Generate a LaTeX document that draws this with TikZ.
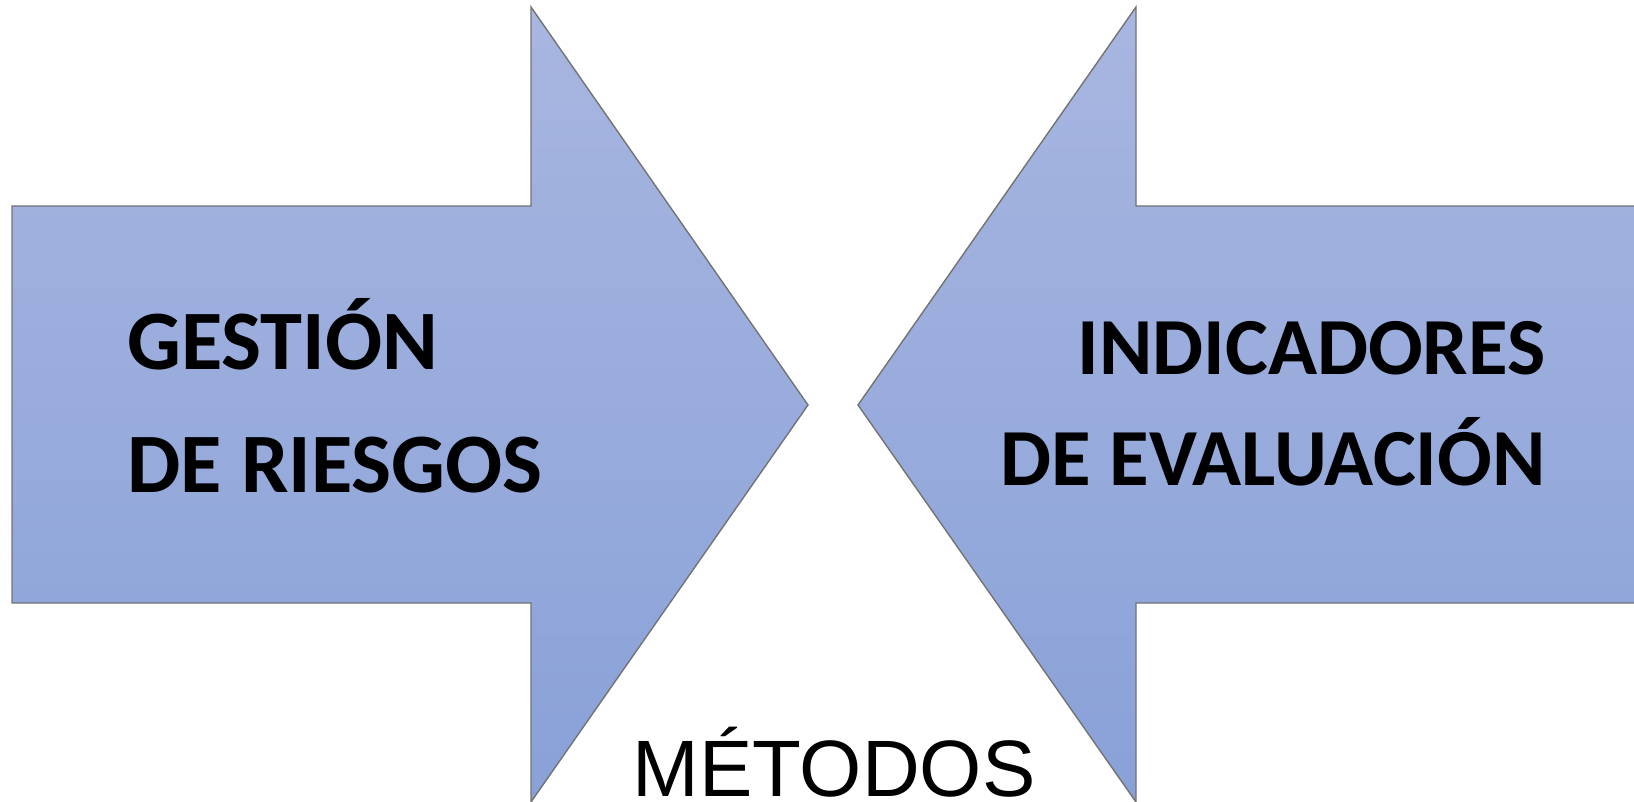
\documentclass[tikz,border=0pt]{standalone}
\usepackage{fontspec}
\setmainfont{Carlito}
\newfontfamily\arialfont{Liberation Sans}
\usetikzlibrary{positioning}
\tikzset{
	bigarrow/.style = {draw = black!55, line width = 0.7pt, top color = arrowtop, bottom color = arrowbottom},
	arrowtext/.style = {inner sep = 0mm, font = \bfseries},
	methodtext/.style = {inner sep = 0mm, font = \arialfont\fontsize{40}{46}\selectfont}
}
\definecolor{arrowtop}{RGB}{168,182,224}
\definecolor{arrowbottom}{RGB}{137,161,216}

\begin{document}
\begin{tikzpicture}[x = 0.5pt, y = -0.5pt]
			\useasboundingbox (0,0) rectangle (1634,802);
			% left arrow, pointing right
			\draw [bigarrow] (12,206) -- (531,206) -- (531,7) -- (808,405)
				-- (531,802) -- (531,603) -- (12,603) -- cycle;
			% right arrow, pointing left
			\draw [bigarrow] (1640,206) -- (1136,206) -- (1136,7) -- (858,405)
				-- (1136,802) -- (1136,603) -- (1640,603);

			\node (gestion) [arrowtext, align = left, anchor = base west,
				font = \bfseries\fontsize{42.3}{61.5}\selectfont] at (127,492)
				{GESTIÓN\\DE RIESGOS};
			\node (indicadores) [arrowtext, align = right, anchor = base east,
				font = \bfseries\fontsize{40.5}{55}\selectfont] at (1546,485)
				{INDICADORES\\DE EVALUACIÓN};
			\node (metodos) [methodtext, anchor = base] at (834,796) {MÉTODOS};
		\end{tikzpicture}
\end{document}
